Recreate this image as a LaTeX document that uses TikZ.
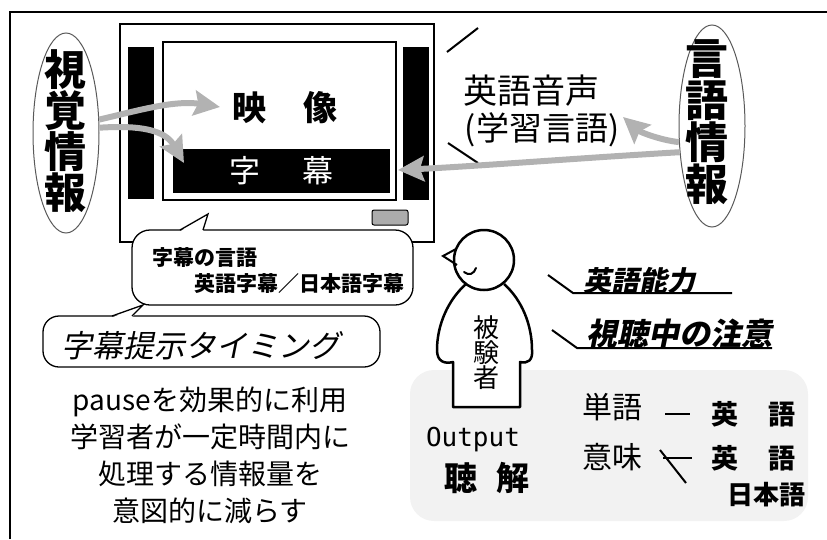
\documentclass[tikz,border=0pt]{standalone}
\usepackage{fontspec}
\setmainfont{Noto Sans CJK JP}
\newfontfamily\sljp[FakeSlant=0.2]{Noto Sans CJK JP}
\setmonofont{DejaVu Sans Mono}
\usetikzlibrary{arrows.meta,shapes.geometric}
\newcommand\jfs[1]{\fontsize{#1pt}{#1pt}\selectfont}

\tikzset{
  lbl/.style={inner sep=0pt, outer sep=0pt},
  grayarrow/.style={draw=gray!60, line width=6pt,
    -{Stealth[length=26pt,width=25pt,inset=4pt,fill=gray!60]}},
  bubble/.style={draw, line width=1.3pt, fill=white, inner sep=0pt},
  infoell/.style={ellipse, draw=black!65, line width=1pt, inner sep=0pt},
  tick/.style={line width=2pt},
  rule/.style={line width=2pt},
}

\begin{document}
\begin{tikzpicture}[x=1pt,y=-1pt]
\useasboundingbox (0,0) rectangle (827,539);

% soft panel behind the outputs
\fill[gray!10, rounded corners=24pt] (410,370) rectangle (808,521);

% outer frame
\draw[line width=1.5pt] (10,539) -- (10,12) -- (827,12);

% television set
\node[lbl, draw, line width=1.3pt, minimum width=314pt, minimum height=218pt] (tv) at (277,133) {};
\node[lbl, fill=black, minimum width=26pt, minimum height=152pt] (lbar) at (141,123) {};
\node[lbl, fill=black, minimum width=26pt, minimum height=153pt] (rbar) at (416,123.5) {};
\node[lbl, draw, line width=1.3pt, minimum width=233pt, minimum height=158pt] (screen) at (279.5,121) {};
\node[lbl, fill=black, text=white, minimum width=217pt, minimum height=44pt, font=\jfs{31}] (sub) at (281.5,171) {字\hspace{42pt}幕};
\node[lbl, font=\bfseries\jfs{34}] (img) at (285,108) {映\hspace{38pt}像};
\node[lbl, draw, line width=1pt, fill=gray!65, rounded corners=2pt, minimum width=36pt, minimum height=15pt] (spk) at (390,217.5) {};

% information sources
\node[infoell, minimum width=66pt, minimum height=200pt] (vis) at (66,133) {};
\node[lbl, align=center, font=\bfseries\fontsize{42pt}{41pt}\selectfont] (vistxt) at (65,131) {視\\覚\\情\\報};
\node[infoell, minimum width=66pt, minimum height=202pt] (lang) at (712,126) {};
\node[lbl, align=center, font=\bfseries\fontsize{43pt}{42pt}\selectfont] (langtxt) at (707,122) {言\\語\\情\\報};

% English audio
\node[lbl, font=\jfs{34}] (voice) at (531,91) {英語音声};
\node[lbl, font=\jfs{33}] (learn) at (542,130) {(学習言語)};
\draw[tick] (447,52) -- (478,28);
\draw[tick] (448,143) -- (478,163);

% flows of information
\coordinate (tipimg) at (220,107);
\coordinate (tipsub) at (184,163);
\coordinate (tipbar) at (398,170);
\coordinate (tipvoice) at (623,117);
\draw[grayarrow] (vis.22) .. controls (140,110) and (175,100) .. (tipimg);
\draw[grayarrow] (vis.9) .. controls (140,125) and (165,130) .. (tipsub);
\draw[grayarrow] (lang.219) .. controls (580,158) and (480,166) .. (tipbar);
\draw[grayarrow] (lang.206) .. controls (660,140) and (640,132) .. (tipvoice);

% subtitle language callout
\node[bubble, rounded corners=18pt, minimum width=281pt, minimum height=75pt] (langbub) at (272.5,267.5) {};
\fill[white] (180,231.5) -- (208,214) -- (203,231.5) -- cycle;
\draw[line width=1.3pt, line join=miter] (180,230) -- (208,214) -- (203,230);
\node[lbl, anchor=west, font=\bfseries\jfs{21}] (langa) at (152,258) {字幕の言語};
\node[lbl, anchor=west, font=\bfseries\jfs{21}] (langb) at (194,284) {英語字幕／日本語字幕};

% subtitle timing callout
\node[bubble, rounded corners=16pt, minimum width=337pt, minimum height=51pt] (timebub) at (211.5,341.5) {};
\fill[white] (112,317.5) -- (143,305) -- (132,317.5) -- cycle;
\draw[line width=1.3pt, line join=miter] (112,316) -- (143,305) -- (132,316);
\node[lbl, font=\sljp\jfs{31}] (timing) at (201,346) {字幕提示タイミング};

% purpose of pauses
\node[lbl, align=center, font=\fontsize{28pt}{37pt}\selectfont] (note) at (210,455)
  {pauseを効果的に利用\\学習者が一定時間内に\\処理する情報量を\\意図的に減らす};

% participant
\draw[line width=2.5pt, fill=white, line join=round]
  (466,284) .. controls (448,300) and (437,325) .. (437,350)
  .. controls (437,362) and (445,364) .. (453,362) -- (453,407) -- (520,407) -- (520,362)
  .. controls (528,364) and (533,360) .. (532,350)
  .. controls (532,325) and (522,300) .. (504,284);
\draw[line width=2.5pt, fill=white] (484,260) circle[radius=30];
\draw[line width=2pt, line join=miter] (456,249) -- (443,256) -- (457,265);
\draw[line width=2pt, line cap=round] (464,272) .. controls (469,276) and (474,274) .. (476,268);
\node[lbl, align=center, font=\fontsize{26pt}{25pt}\selectfont] (subj) at (486,353) {被\\験\\者};

% learner factors
\node[lbl, font=\sljp\bfseries\jfs{28}] (ability) at (639,281) {英語能力};
\draw[rule] (548,275) -- (573,293) -- (732,293);
\node[lbl, font=\sljp\bfseries\jfs{31}] (attn) at (679,334) {視聴中の注意};
\draw[rule] (552,330) -- (577,348) -- (772,348);

% outputs
\node[lbl, anchor=west, font=\ttfamily\jfs{26}] (out) at (426,440) {Output};
\node[lbl, font=\bfseries\jfs{33}] (listen) at (487,478) {聴\hspace{19pt}解};
\node[lbl, font=\jfs{30}] (word) at (612,407) {単語};
\node[lbl, font=\jfs{30}] (mean) at (612,457) {意味};
\node[lbl, font=\bfseries\jfs{27}] (en1) at (753,414) {英\hspace{30pt}語};
\node[lbl, font=\bfseries\jfs{27}] (en2) at (753,458) {英\hspace{30pt}語};
\node[lbl, font=\bfseries\jfs{26}] (ja) at (766,495) {日本語};
\draw[line width=2.5pt, shorten <=23pt, shorten >=21pt] (word.east |- en1.west) -- (en1.west);
\draw[line width=2.5pt, shorten <=21pt, shorten >=19pt] (mean.east |- en2.west) -- (en2.west);
\draw[line width=2pt] ([shift={(18,-7)}]mean.east) -- ([shift={(-41,-12)}]ja.west);
\end{tikzpicture}
\end{document}
